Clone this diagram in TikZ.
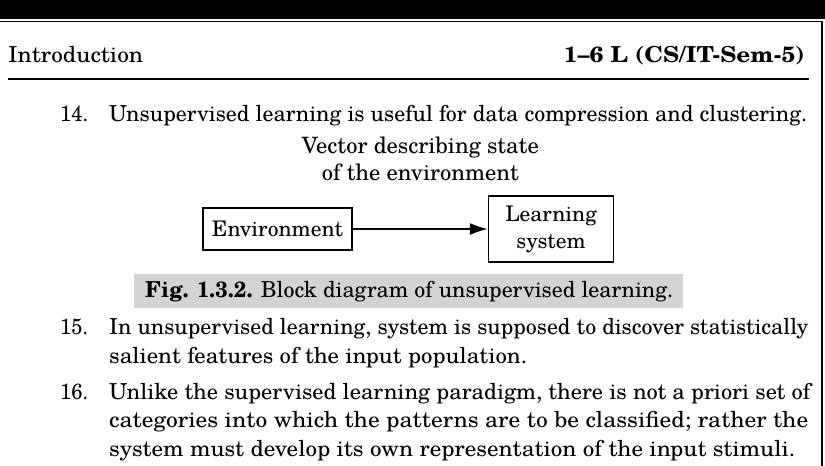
\documentclass[tikz,border=0pt]{standalone}
\usepackage{fontspec}
\setmainfont{TeX Gyre Schola}
\usepackage{graphicx}
\usepackage{tikz}
\usetikzlibrary{positioning, arrows.meta}
\definecolor{capgrey}{RGB}{211,211,211}

\begin{document}
\begin{tikzpicture}[x=1pt, y=-1pt, >={Latex[length=18pt, width=12pt]},
      txt/.style={anchor=base west, inner sep=0pt, font=\fontsize{22}{28}\selectfont},
      block/.style={draw, line width=1.6pt, align=center, inner sep=0pt, font=\fontsize{21.5}{27}\selectfont}]

      \useasboundingbox (0,0) rectangle (825,466);
      % page frame
      \fill[black] (0,0) rectangle (825,19);
      \draw[line width=1.5pt] (0,21.5) -- (822,21.5) -- (822,466);

      % header
      \node[txt] (head) at (8,62) {\resizebox{135pt}{\height}{Introduction}};
      \node[txt, anchor=base east] (page) at (805,62) {\resizebox{241pt}{\height}{\bfseries 1--6 L (CS/IT-Sem-5)}};
      \draw[line width=1.2pt] (8,79) -- (809,79);

      \node[txt] (n14) at (60,121) {\resizebox{28pt}{\height}{14.}};
      \node[txt] (l14) at (109,121) {\resizebox{698pt}{\height}{Unsupervised learning is useful for data compression and clustering.}};

      % block diagram
      \node[block, minimum width=149pt, minimum height=42pt] (env) at (277.5,229) {Environment};
      \node[block, minimum width=125pt, minimum height=66pt, right=135pt of env] (learn) {Learning\\system};
      \draw[->, line width=1.6pt] (env) -- node[above=44pt, align=center, font=\fontsize{22.5}{27}\selectfont] (vec) {Vector describing state\\of the environment} (learn);

      \fill[capgrey] (134,274) rectangle (683,308);
      \node[txt] (cap) at (145,297) {\resizebox{528pt}{\height}{\textbf{Fig. 1.3.2.} Block diagram of unsupervised learning.}};

      \node[txt] (n15) at (60,334) {\resizebox{28pt}{\height}{15.}};
      \node[txt] (l15a) at (109,334) {\resizebox{699pt}{\height}{In unsupervised learning, system is supposed to discover statistically}};
      \node[txt] (l15b) at (109,363) {\resizebox{418pt}{\height}{salient features of the input population.}};

      \node[txt] (n16) at (60,399) {\resizebox{28pt}{\height}{16.}};
      \node[txt] (l16a) at (109,399) {\resizebox{701pt}{\height}{Unlike the supervised learning paradigm, there is not a priori set of}};
      \node[txt] (l16b) at (109,427) {\resizebox{699pt}{\height}{categories into which the patterns are to be classified; rather the}};
      \node[txt] (l16c) at (109,456) {\resizebox{686pt}{\height}{system must develop its own representation of the input stimuli.}};
\end{tikzpicture}
\end{document}
